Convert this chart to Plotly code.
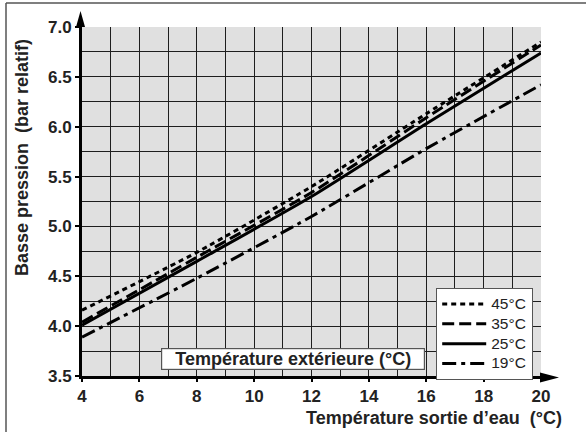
import plotly.graph_objects as go

# Data
water_temp = [4, 8, 12, 16, 20]
p_45 = [4.16, 4.74, 5.40, 6.13, 6.85]
p_35 = [4.04, 4.69, 5.34, 6.09, 6.82]
p_25 = [4.01, 4.65, 5.30, 6.03, 6.74]
p_19 = [3.89, 4.48, 5.10, 5.78, 6.42]
series_names = ["45°C", "35°C", "25°C", "19°C"]
x_ticks = [4, 6, 8, 10, 12, 14, 16, 18, 20]
y_ticks = [3.5, 4.0, 4.5, 5.0, 5.5, 6.0, 6.5, 7.0]

FONT = "Liberation Sans, Arial, Helvetica, sans-serif"
W, H = 586, 432
ML, MR, MT, MB = 82, 45, 27, 56
PW, PH = W - ML - MR, H - MT - MB


def px_x(px):
    return (px - ML) / PW


def px_y(py):
    return (H - MB - py) / PH


fig = go.Figure()
dashes = ["5px,4px", "12px,5px", "solid", "14px,5px,4px,5px"]
for name, vals, dash in zip(series_names, [p_45, p_35, p_25, p_19], dashes):
    fig.add_trace(go.Scatter(
        x=water_temp, y=vals, mode="lines",
        name=f'<span style="font-size:15.5px">{name}</span>',
        line=dict(color="black", width=3, dash=dash, shape="spline", smoothing=0.6),
    ))

grid_col = "#1e1e1e"
fig.update_xaxes(
    range=[4, 20], tickvals=x_ticks, ticktext=[f"<b>{v}</b>" for v in x_ticks],
    ticks="outside", ticklen=3, tickwidth=1.5, tickcolor="black",
    tickfont=dict(family=FONT, size=17, color="#222"),
    ticklabelstandoff=0,
    showline=True, linecolor="black", linewidth=3,
    showgrid=True, gridcolor=grid_col, gridwidth=1.3,
    minor=dict(dtick=1, showgrid=True, gridcolor=grid_col, gridwidth=1.3, ticks=""),
    zeroline=False, fixedrange=True,
)
fig.update_yaxes(
    range=[3.5, 7.0], tickvals=y_ticks, ticktext=[f"<b>{v:.1f}</b>" for v in y_ticks],
    ticks="outside", ticklen=4, tickwidth=1.5, tickcolor="black",
    tickfont=dict(family=FONT, size=17, color="#222"),
    showline=True, linecolor="black", linewidth=3,
    showgrid=True, gridcolor=grid_col, gridwidth=1.3,
    minor=dict(dtick=0.25, showgrid=True, gridcolor=grid_col, gridwidth=1.3, ticks=""),
    zeroline=False, fixedrange=True,
)

shapes = [
    # y-axis arrow head
    dict(type="path", xref="paper", yref="paper", xsizemode="pixel", ysizemode="pixel",
         xanchor=0, yanchor=1, path="M-6,0 L3,0 L-1.5,16 Z",
         fillcolor="black", line=dict(width=0), layer="above"),
    # x-axis arrow head
    dict(type="path", xref="paper", yref="paper", xsizemode="pixel", ysizemode="pixel",
         xanchor=1, yanchor=0, path="M-1,-6.5 L18,-1.5 L-1,3.5 Z",
         fillcolor="black", line=dict(width=0), layer="above"),
    # outer frame (top and left)
    dict(type="line", xref="paper", yref="paper", x0=px_x(6), x1=px_x(W + 2),
         y0=px_y(3), y1=px_y(3), line=dict(color="#555", width=1.5)),
    dict(type="line", xref="paper", yref="paper", x0=px_x(6), x1=px_x(6),
         y0=px_y(3), y1=px_y(H + 2), line=dict(color="#555", width=1.5)),
]

annotations = [
    dict(text="<b>Basse pression  (bar relatif)</b>", xref="paper", yref="paper",
         x=px_x(22), y=px_y(158), textangle=-90, showarrow=False,
         xanchor="center", yanchor="middle",
         font=dict(family=FONT, size=18, color="#222")),
    dict(text="<b>Température sortie d’eau  (°C)</b>", xref="paper", yref="paper",
         x=px_x(564), y=px_y(418), showarrow=False, xanchor="right", yanchor="middle",
         font=dict(family=FONT, size=18, color="#222")),
    dict(text="<b>Température extérieure (°C)</b>", xref="paper", yref="paper",
         x=px_x(292.5), y=px_y(359), showarrow=False, xanchor="center", yanchor="middle",
         width=262, height=20, bgcolor="white", bordercolor="#555", borderwidth=1.2,
         borderpad=0,
         font=dict(family=FONT, size=18, color="#222")),
]

fig.update_layout(
    width=W, height=H,
    margin=dict(l=ML, r=MR, t=MT, b=MB, pad=0),
    paper_bgcolor="white", plot_bgcolor="#e0e0e0",
    shapes=shapes, annotations=annotations,
    showlegend=True,
    legend=dict(
        x=px_x(436), y=px_y(288), xanchor="left", yanchor="top",
        bgcolor="white", bordercolor="#555", borderwidth=1.2,
        font=dict(family=FONT, size=12.9, color="#222"),
        itemwidth=44, tracegroupgap=0,
    ),
)

fig.write_html("out.html", config={"displayModeBar": False},
               post_script="document.body.style.margin='0';")
